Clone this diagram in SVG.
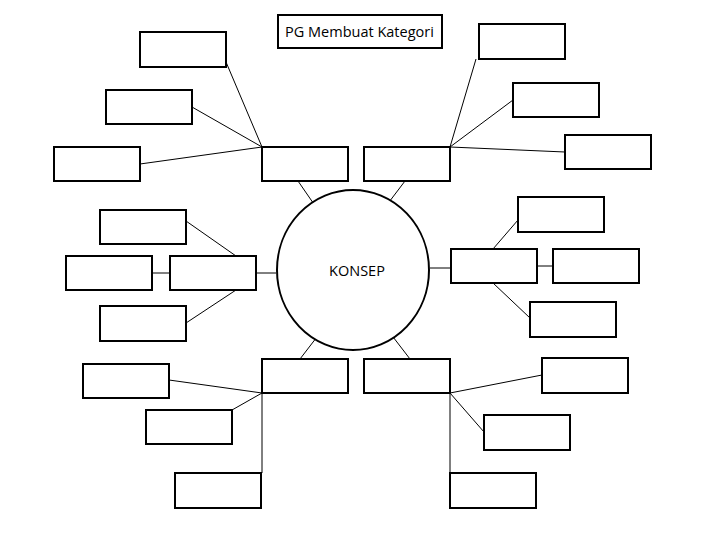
<svg xmlns="http://www.w3.org/2000/svg" width="728" height="546" viewBox="0 0 728 546">
<style>
.b{fill:#fff;stroke:#000;stroke-width:2}
.l{stroke:#000;stroke-width:1;fill:none}
text{font-family:"Open Sans","Liberation Sans",sans-serif;font-size:14.5px}
</style>
<rect width="728" height="546" fill="#fff"/>
<g id="connectors">
<path class="l" d="M262,147L226,62M262,147L192,107M262,147L140,164M450,147L476,59M450,147L513,100M450,147L565,152M298,181L318,210M405,181L383,210M152,273H170M186,221L236,256M186,323L236,290M257,273H276M430,268H450M537,266H553M493,249L518,220M493,283L530,318M300,359L320,333M410,359L390,333M262,393L169,380M262,393L232,410M262,393V473M450,393L542,375M450,393L484,432M450,393V473"/>
</g>
<g id="title"><rect class="b" x="278" y="15" width="164" height="33" stroke-width="1"/><text x="285" y="37">PG Membuat Kategori</text></g>
<g id="konsep"><ellipse class="b" cx="353" cy="270" rx="76" ry="80"/><text x="357" y="276" text-anchor="middle" font-size="16">KONSEP</text></g>
<g id="n1"><rect class="b" x="140" y="32" width="86" height="35"/></g>
<g id="n2"><rect class="b" x="106" y="90" width="86" height="34"/></g>
<g id="n3"><rect class="b" x="54" y="147" width="86" height="34"/></g>
<g id="n4"><rect class="b" x="262" y="147" width="86" height="34"/></g>
<g id="n5"><rect class="b" x="364" y="147" width="86" height="34"/></g>
<g id="n6"><rect class="b" x="479" y="24" width="86" height="35"/></g>
<g id="n7"><rect class="b" x="513" y="83" width="86" height="34"/></g>
<g id="n8"><rect class="b" x="565" y="135" width="86" height="34"/></g>
<g id="n9"><rect class="b" x="170" y="256" width="86" height="34"/></g>
<g id="n10"><rect class="b" x="66" y="256" width="86" height="34"/></g>
<g id="n11"><rect class="b" x="100" y="210" width="86" height="34"/></g>
<g id="n12"><rect class="b" x="100" y="306" width="86" height="35"/></g>
<g id="n13"><rect class="b" x="451" y="249" width="86" height="34"/></g>
<g id="n14"><rect class="b" x="518" y="197" width="86" height="35"/></g>
<g id="n15"><rect class="b" x="553" y="249" width="86" height="34"/></g>
<g id="n16"><rect class="b" x="530" y="302" width="86" height="35"/></g>
<g id="n17"><rect class="b" x="262" y="359" width="86" height="34"/></g>
<g id="n18"><rect class="b" x="83" y="364" width="86" height="34"/></g>
<g id="n19"><rect class="b" x="146" y="410" width="86" height="34"/></g>
<g id="n20"><rect class="b" x="175" y="473" width="86" height="35"/></g>
<g id="n21"><rect class="b" x="364" y="359" width="86" height="34"/></g>
<g id="n22"><rect class="b" x="542" y="358" width="86" height="35"/></g>
<g id="n23"><rect class="b" x="484" y="415" width="86" height="35"/></g>
<g id="n24"><rect class="b" x="450" y="473" width="86" height="35"/></g>
</svg>
